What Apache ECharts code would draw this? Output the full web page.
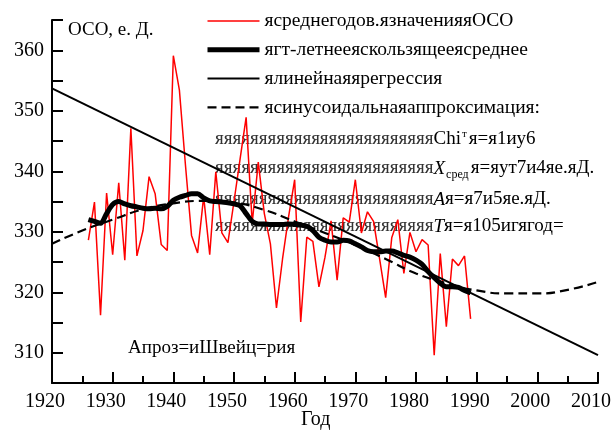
<!DOCTYPE html>
<html>
<head>
<meta charset="utf-8">
<script src="https://cdn.jsdelivr.net/npm/echarts@6/dist/echarts.min.js"></script>
<style>
html, body { margin: 0; padding: 0; background: #fff; }
#chart { width: 614px; height: 432px; }
</style>
</head>
<body>
<div id="chart"></div>
<script>
// annual mean values, 1926..1989
var startYear = 1926;
var annualValues = [
    328.6, 334.9, 316.2, 336.4, 326.2, 338.1, 325.3, 347.1, 326.0, 330.2,
    339.1, 336.3, 327.9, 326.9, 359.1, 353.4, 341.0, 329.4, 326.5, 335.8,
    326.2, 339.9, 329.8, 328.2, 335.0, 342.0, 348.9, 331.4, 341.5, 333.0,
    328.0, 317.4, 325.5, 332.5, 338.6, 315.1, 329.1, 328.4, 320.9, 325.8,
    331.8, 322.0, 332.3, 331.6, 338.6, 329.8, 333.3, 331.7, 325.5, 319.1,
    329.0, 332.0, 323.1, 329.9, 326.7, 328.7, 327.8, 309.6, 326.4, 314.3,
    325.5, 324.4, 326.0, 315.6
];
// 11-year moving average, 1926..1989
var movingAvg = [
    332.0, 331.7, 331.4, 333.0, 334.5, 335.0, 334.6, 334.3, 334.1, 333.9,
    333.8, 333.9, 333.8, 334.2, 335.2, 335.7, 336.0, 336.3, 336.3, 335.6,
    335.1, 335.0, 334.9, 334.8, 334.6, 334.3, 333.0, 331.7, 331.3, 331.3,
    331.2, 331.2, 331.2, 331.3, 331.2, 331.1, 330.9, 330.2, 329.1, 328.6,
    328.3, 328.3, 328.6, 328.5, 328.0, 327.5, 326.9, 326.7, 326.7, 326.8,
    326.8, 326.5, 326.1, 325.8, 325.3, 324.6, 323.4, 322.4, 321.5, 320.9,
    320.9, 320.8, 320.3, 319.9
];
// linear regression
var regYears = [1920, 2010];
var regValues = [353.7, 309.6];
// sinusoidal approximation
var sinYears = [1920, 1925, 1930, 1935, 1940, 1945, 1950, 1955, 1960, 1965,
    1970, 1975, 1980, 1985, 1990, 1995, 2000, 2005, 2010];
var sinValues = [328.0, 330.2, 332.0, 333.7, 334.7, 335.1, 334.8, 333.6, 331.7, 329.8,
    327.8, 325.5, 323.1, 321.5, 320.3, 319.8, 319.8, 320.4, 321.7];

var legendNames = [
    'ясреднегодов.язначенияяОСО',
    'ягт-летнееяскользящееясреднее',
    'ялинейнаяярегрессия',
    'ясинусоидальнаяаппроксимация:'
];
var lineWidths = [1.5, 5, 2, 2.2];

function pairs(xs, ys) {
    var out = [];
    for (var i = 0; i < ys.length; i++) out.push([xs[i], ys[i]]);
    return out;
}
function fromStart(ys) {
    var out = [];
    for (var i = 0; i < ys.length; i++) out.push([startYear + i, ys[i]]);
    return out;
}

var serif = 'Liberation Serif';
var filler = new Array(26).join('я');

var chart = echarts.init(document.getElementById('chart'));

chart.setOption({
    animation: false,
    textStyle: { fontFamily: serif },
    grid: { left: 52, right: 13, top: 20, bottom: 49 },
    legend: {
        data: legendNames.map(function (n, i) {
            return { name: n, lineStyle: { width: lineWidths[i] } };
        }),
        orient: 'vertical',
        left: 200,
        top: 6,
        itemWidth: 52,
        itemHeight: 19,
        itemGap: 8.8,
        itemStyle: { opacity: 0 },
        textStyle: { fontFamily: serif, fontSize: 19.5, color: '#000' }
    },
    xAxis: {
        type: 'value',
        min: 1920,
        max: 2010,
        interval: 10,
        axisLine: { lineStyle: { color: '#000', width: 2 } },
        axisTick: { inside: true, length: 11, lineStyle: { color: '#000', width: 2 } },
        minorTick: { show: true, splitNumber: 2, length: 7, lineStyle: { color: '#000', width: 2 } },
        axisLabel: {
            color: '#000', fontSize: 20, margin: 9, padding: [0, 14, 0, 0], fontFamily: serif,
            formatter: function (v) { return String(v); }
        },
        splitLine: { show: false }
    },
    yAxis: {
        type: 'value',
        min: 305,
        max: 365,
        interval: 5,
        axisLine: { show: true, lineStyle: { color: '#000', width: 2 } },
        axisTick: { inside: true, length: 11, lineStyle: { color: '#000', width: 2 } },
        axisLabel: {
            color: '#000', fontSize: 20, margin: 8, fontFamily: serif,
            formatter: function (v) { return v % 10 === 0 ? String(v) : ''; }
        },
        splitLine: { show: false }
    },
    graphic: [
        { type: 'text', left: 68, top: 21, style: { text: 'ОСО, е. Д.', font: '19px "Liberation Serif"', fill: '#000' } },
        { type: 'text', left: 128, top: 339, style: { text: 'Апроз=иШвейц=рия', font: '19px "Liberation Serif"', fill: '#000' } },
        { type: 'text', left: 301, top: 410, style: { text: 'Год', font: '20px "Liberation Serif"', fill: '#000' } },
        {
            type: 'text', left: 215, top: 129,
            style: {
                text: '{f|' + filler + '}{n|Chi}{sup|т}{n|я=я1иу6}',
                rich: {
                    f: { fontFamily: serif, fontSize: 19, fill: '#333' },
                    n: { fontFamily: serif, fontSize: 19, fill: '#000' },
                    sup: { fontFamily: serif, fontSize: 11, fill: '#000', padding: [0, 2, 10, 1] }
                }
            }
        },
        {
            type: 'text', left: 215, top: 159,
            style: {
                text: '{f|' + filler + '}{i|X}{sub|сред}{n|я=яут7и4яе.яД.}',
                rich: {
                    f: { fontFamily: serif, fontSize: 19, fill: '#333' },
                    n: { fontFamily: serif, fontSize: 19, fill: '#000' },
                    i: { fontFamily: serif, fontSize: 19, fontStyle: 'italic', fill: '#000' },
                    sub: { fontFamily: serif, fontSize: 12, fill: '#000', padding: [12, 2, 0, 1] }
                }
            }
        },
        {
            type: 'text', left: 215, top: 190,
            style: {
                text: '{f|' + filler + '}{i|A}{n|я=я7и5яе.яД.}',
                rich: {
                    f: { fontFamily: serif, fontSize: 19, fill: '#333' },
                    n: { fontFamily: serif, fontSize: 19, fill: '#000' },
                    i: { fontFamily: serif, fontSize: 19, fontStyle: 'italic', fill: '#000' }
                }
            }
        },
        {
            type: 'text', left: 215, top: 217,
            style: {
                text: '{f|' + filler + '}{i|T}{n|я=я105игягод=}',
                rich: {
                    f: { fontFamily: serif, fontSize: 19, fill: '#333' },
                    n: { fontFamily: serif, fontSize: 19, fill: '#000' },
                    i: { fontFamily: serif, fontSize: 19, fontStyle: 'italic', fill: '#000' }
                }
            }
        }
    ],
    series: [
        {
            name: legendNames[0],
            type: 'line',
            symbol: 'none',
            lineStyle: { color: '#ff0000', width: lineWidths[0] },
            itemStyle: { color: '#ff0000' },
            data: fromStart(annualValues)
        },
        {
            name: legendNames[1],
            type: 'line',
            symbol: 'none',
            smooth: 0.3,
            lineStyle: { color: '#000', width: lineWidths[1] },
            itemStyle: { color: '#000' },
            data: fromStart(movingAvg)
        },
        {
            name: legendNames[2],
            type: 'line',
            symbol: 'none',
            lineStyle: { color: '#000', width: lineWidths[2] },
            itemStyle: { color: '#000' },
            data: pairs(regYears, regValues)
        },
        {
            name: legendNames[3],
            type: 'line',
            symbol: 'none',
            smooth: true,
            lineStyle: { color: '#000', width: lineWidths[3], type: [9, 5] },
            itemStyle: { color: '#000' },
            data: pairs(sinYears, sinValues)
        }
    ]
});
</script>
</body>
</html>
